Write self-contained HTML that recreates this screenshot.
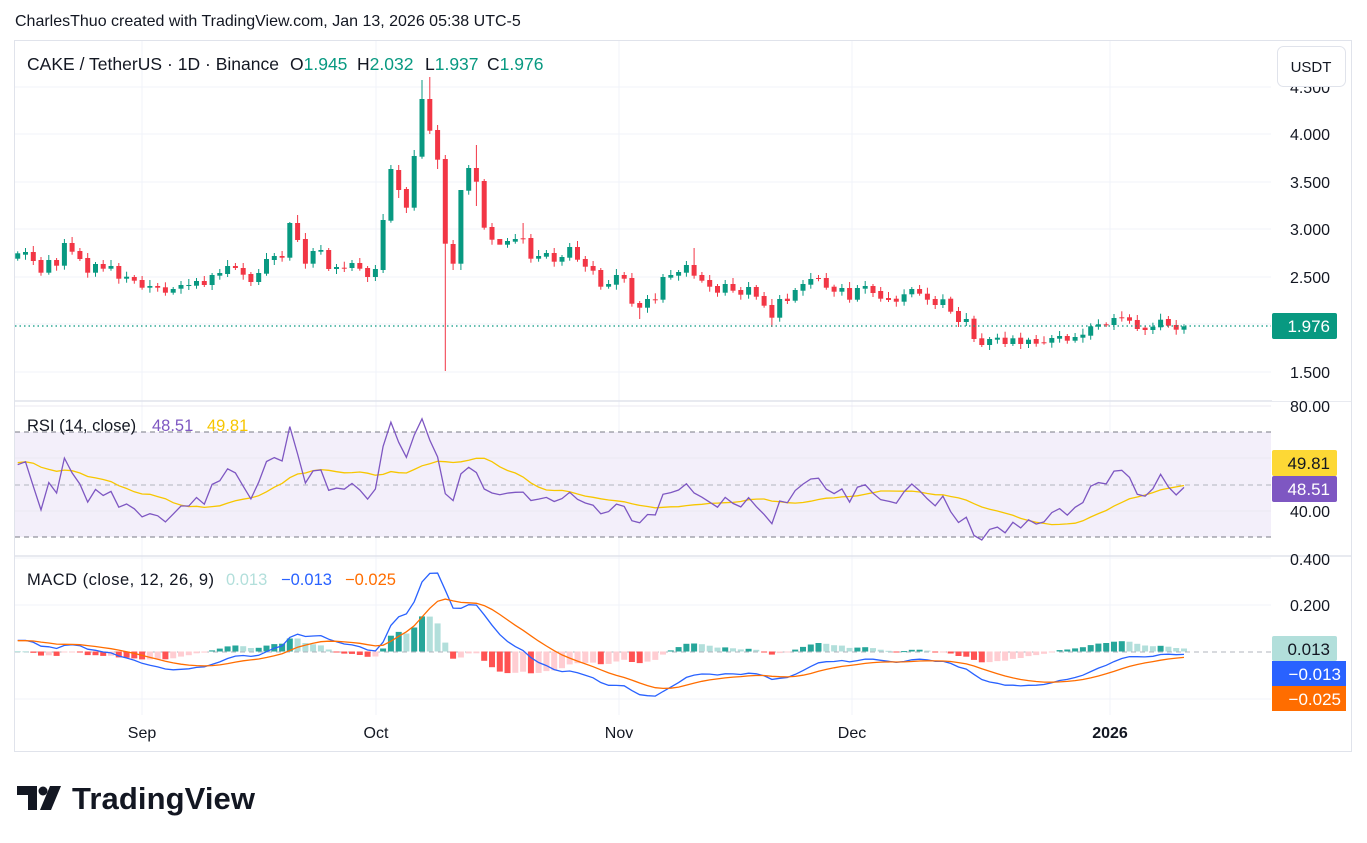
<!DOCTYPE html>
<html><head><meta charset="utf-8">
<style>
body{margin:0;background:#fff;width:1367px;height:843px;overflow:hidden;font-family:"Liberation Sans",sans-serif;}
svg{position:absolute;left:0;top:0}
</style></head><body>
<svg id="s" width="1367" height="843" xmlns="http://www.w3.org/2000/svg" font-family="Liberation Sans, sans-serif"></svg>
<script>
const D=[258.7,253.3,254.7,252,252,261,260,272.7,272.7,260,260,265.7,265.7,243,243,251.7,251,259,258,272.7,272.7,264,264,268.7,268.7,266,266,278.7,278.7,276.7,277,280.7,280,287.7,287.7,286,286,287.7,287.3,292.7,292.7,289,288.7,285,286,285,285.7,281,281,285,285,275,275.7,273,274,266,266,268,268,274.7,274,282,282,273,273.7,259,260,256,256,257.7,257.7,223,223,240,239,263.7,263.7,251,251.7,250,250,269,269,267,267.7,268,268,263,263,268.7,268,277,277,269,270,220,220.7,169,170,190,189,207.7,207.7,156,156.7,99,99,130.7,130,159.7,
159,243.7,244,263.7,263.7,190,190.7,168,168,181.7,181,227.7,227,239.7,239,244.7,244.7,241,241.7,239,238.3,238.6,238,258.7,258.7,256,256.7,253,253,261.7,261.7,257,257.7,247,247,259.7,259,266.7,266,270.7,270,286.7,286.7,284,284.7,275,275,278.7,278,303.7,303,307.7,307.7,299,299.3,299.6,299.7,277,277.7,275,275.7,272,272.7,265,265,275.7,275,280.7,280,286.7,286,292.7,292.7,284,284,290.7,290,294.7,294.7,287,287,296.7,296,305.7,305,317.7,317.7,299,298.7,301,300.7,290,290.7,284,284.7,279,278,278.3,278,287.7,286.7,291.7,
291.7,288,288,299.7,299.7,288,288.7,286,286,293,291,298.7,298,300,298.7,301.7,301.7,294.3,294.3,289,289,293.7,293.7,299.7,299,305,305,299.3,298.7,311.7,311,322,322,319,318.7,339,338.3,345,345,339,339.7,337.7,337.7,344,344,338.3,337.7,344,344,339.7,339,343.7,342.3,342.6,342.7,338,338.7,336,336,340.7,340.7,337,337.7,334.7,335.7,326.3,326.7,324.3,324.3,325,325,318,317.3,317.6,317.3,320.7,320,329,327.7,330,330,326.7,327.3,319.7,319,325.7,325,329.7,329.7,326.3];
const N=D.length/2;
const HI={35:222,36:215,52:80,53:77,48:165,51:150,55:155,57:258,59:145,65:223,87:248,41:264,62:264,98:295};
const LO={53:134,55:371,56:270,57:270,62:264,80:319,97:327,54:169,59:206,49:198,50:213};
const X0=17.7,DX=7.775;
const P=y=>4-(y-134)/95.5;
let h='';
const L=(x1,y1,x2,y2,c,w,da)=>h+=`<line x1="${x1}" y1="${y1}" x2="${x2}" y2="${y2}" stroke="${c}" stroke-width="${w||1}" ${da?`stroke-dasharray="${da}"`:''}/>`;
const T=(x,y,t,o)=>h+=`<text x="${x}" y="${y}" ${o||''}>${t}</text>`;
const R=(x,y,w,hh,c,o)=>h+=`<rect x="${x}" y="${y}" width="${w}" height="${hh}" fill="${c}" ${o||''}/>`;
R(14.5,40.5,1337,711,'#fff','stroke="#e0e3eb"');
const GX=[142,376,619,852,1110];
GX.forEach(x=>L(x,41,x,715,'#f0f3fa'));
[87,134,182,229,277,324,372].forEach(y=>L(15,y,1271,y,'#f0f3fa'));
R(15,432,1256,105,'#f3effa');
[406,458,511].forEach(y=>L(15,y,1271,y,'#ebe8f2'));
[432,537].forEach(y=>L(15,y,1271,y,'#787b86',1,'5,4'));
L(15,485,1271,485,'#b2b5be',1,'5,4');
[558,605,699].forEach(y=>L(15,y,1271,y,'#f0f3fa'));
L(15,652,1271,652,'#b2b5be',1,'5,4');
L(15,401,1352,401,'#e0e3eb',1.5);L(15,556,1352,556,'#e0e3eb',1.5);
const cl=[];
for(let i=0;i<N;i++){
 const o=D[2*i],c=D[2*i+1],x=X0+i*DX;cl.push(P(c));
 const up=c<=o,col=up?'#089981':'#f23645';
 const t=Math.min(o,c),b=Math.max(o,c);
 const hi=HI[i]!==undefined?HI[i]:t-(2+(i*7)%5);
 const lo=LO[i]!==undefined?LO[i]:b+(2+(i*11)%4);
 L(x.toFixed(1),hi,x.toFixed(1),lo,col,1);
 R((x-2.5).toFixed(1),t,5,Math.max(1,b-t),col);
}
L(15,326,1271,326,'#089981',1.2,'1.5,3');
const warm=[];for(let k=0;k<60;k++)warm.push(2.35+0.4*k/59+0.05*Math.sin(k*1.3));
const all=warm.concat(cl),W=warm.length;
let ag=0,al=0;const rsi=[];
for(let i=1;i<all.length;i++){const d=all[i]-all[i-1];const g=Math.max(d,0),l=Math.max(-d,0);
 if(i<=14){ag+=g/14;al+=l/14;}else{ag=(ag*13+g)/14;al=(al*13+l)/14;}
 rsi[i]=al==0?100:100-100/(1+ag/al);}
const rma=[];for(let i=15+14;i<all.length;i++){let s=0;for(let k=0;k<14;k++)s+=rsi[i-k];rma[i]=s/14;}
const ema=(a,n)=>{const k=2/(n+1);const r=[a[0]];for(let i=1;i<a.length;i++)r[i]=a[i]*k+r[i-1]*(1-k);return r;};
const e12=ema(all,12),e26=ema(all,26);const mac=all.map((v,i)=>e12[i]-e26[i]);const sig=ema(mac,9);
const ry=v=>485-(v-50)*2.625,my=v=>651.5-v*232.5;
for(let i=0;i<N;i++){const j=i+W;const hv=mac[j]-sig[j],pv=mac[j-1]-sig[j-1];
 const col=hv>=0?(hv>=pv?'#26a69a':'#b2dfdb'):(hv<pv?'#ff5252':'#ffcdd2');
 const y0=my(0),y1=my(hv);R((X0+i*DX-3).toFixed(1),Math.min(y0,y1).toFixed(1),6,Math.max(1,Math.abs(y1-y0)).toFixed(1),col);}
const pl=(arr,f,c)=>{let p=[];for(let i=0;i<N;i++){const v=arr[i+W];if(v===undefined)continue;p.push((X0+i*DX).toFixed(1)+','+f(v).toFixed(1));}
 h+=`<polyline points="${p.join(' ')}" fill="none" stroke="${c}" stroke-width="1.3"/>`;};
pl(rma,ry,'#f7c600');pl(rsi,ry,'#7e57c2');pl(mac,my,'#2962ff');pl(sig,my,'#ff6d00');
R(1272,41,79,360,'#fff');R(1272,402,79,153,'#fff');R(1272,557,79,157,'#fff');
const ax='font-size="16" fill="#131722" text-anchor="end"';
[['4.500',93],['4.000',140],['3.500',188],['3.000',235],['2.500',283],['1.500',378]].forEach(a=>T(1330,a[1],a[0],ax));
R(1277.5,46.5,68,40,'#fff','stroke="#e0e3eb" rx="6"');T(1311,72,'USDT','font-size="15" fill="#131722" text-anchor="middle"');
R(1272,313,65,26,'#089981','rx="2"');T(1330,332,'1.976','font-size="17" fill="#fff" text-anchor="end"');
T(1330,412,'80.00',ax);T(1330,517,'40.00',ax);
R(1272,450,65,26,'#fdd835','rx="2"');T(1330,469,'49.81','font-size="17" fill="#131722" text-anchor="end"');
R(1272,476,65,26,'#7e57c2','rx="2"');T(1330,495,'48.51','font-size="17" fill="#fff" text-anchor="end"');
T(1330,565,'0.400',ax);T(1330,611,'0.200',ax);
R(1272,636,65,25,'#b2dfdb','rx="2"');T(1330,655,'0.013','font-size="17" fill="#131722" text-anchor="end"');
R(1272,661,74,25,'#2962ff');T(1341,680,'−0.013','font-size="17" fill="#fff" text-anchor="end"');
R(1272,686,74,25,'#ff6d00');T(1341,705,'−0.025','font-size="17" fill="#fff" text-anchor="end"');
[['Sep',142],['Oct',376],['Nov',619],['Dec',852]].forEach(a=>T(a[1],738,a[0],'font-size="16" fill="#131722" text-anchor="middle"'));
T(1110,738,'2026','font-size="16" font-weight="bold" fill="#131722" text-anchor="middle"');
T(15,26,'CharlesThuo created with TradingView.com, Jan 13, 2026 05:38 UTC-5','font-size="16" fill="#131722"');
const lg='font-size="17.5"';
T(27,70,'CAKE / TetherUS · 1D · Binance',lg+' fill="#131722" textLength="252"');
h+=`<text x="290" y="70" ${lg} fill="#131722">O<tspan fill="#089981">1.945</tspan></text>`;
h+=`<text x="357" y="70" ${lg} fill="#131722">H<tspan fill="#089981">2.032</tspan></text>`;
h+=`<text x="425" y="70" ${lg} fill="#131722">L<tspan fill="#089981">1.937</tspan></text>`;
h+=`<text x="487" y="70" ${lg} fill="#131722">C<tspan fill="#089981">1.976</tspan></text>`;
T(27,431,'RSI (14, close)','font-size="16.5" fill="#131722"');
T(152,431,'48.51','font-size="16.5" fill="#7e57c2"');T(207,431,'49.81','font-size="16.5" fill="#f7c600"');
T(27,585,'MACD (close, 12, 26, 9)','font-size="16.5" fill="#131722" textLength="187"');
T(226,585,'0.013','font-size="16.5" fill="#b2dfdb"');T(281,585,'−0.013','font-size="16.5" fill="#2962ff"');T(345,585,'−0.025','font-size="16.5" fill="#ff6d00"');
h+=`<path d="M17 786h20v24h-9v-15h-11z" fill="#131722"/><circle cx="43" cy="791" r="4.5" fill="#131722"/><path d="M50 786h11l-10 24h-11z" fill="#131722"/>`;
T(72,809,'TradingView','font-size="31" font-weight="bold" fill="#131722" textLength="183"');
document.getElementById('s').innerHTML=h;
</script>
</body></html>
